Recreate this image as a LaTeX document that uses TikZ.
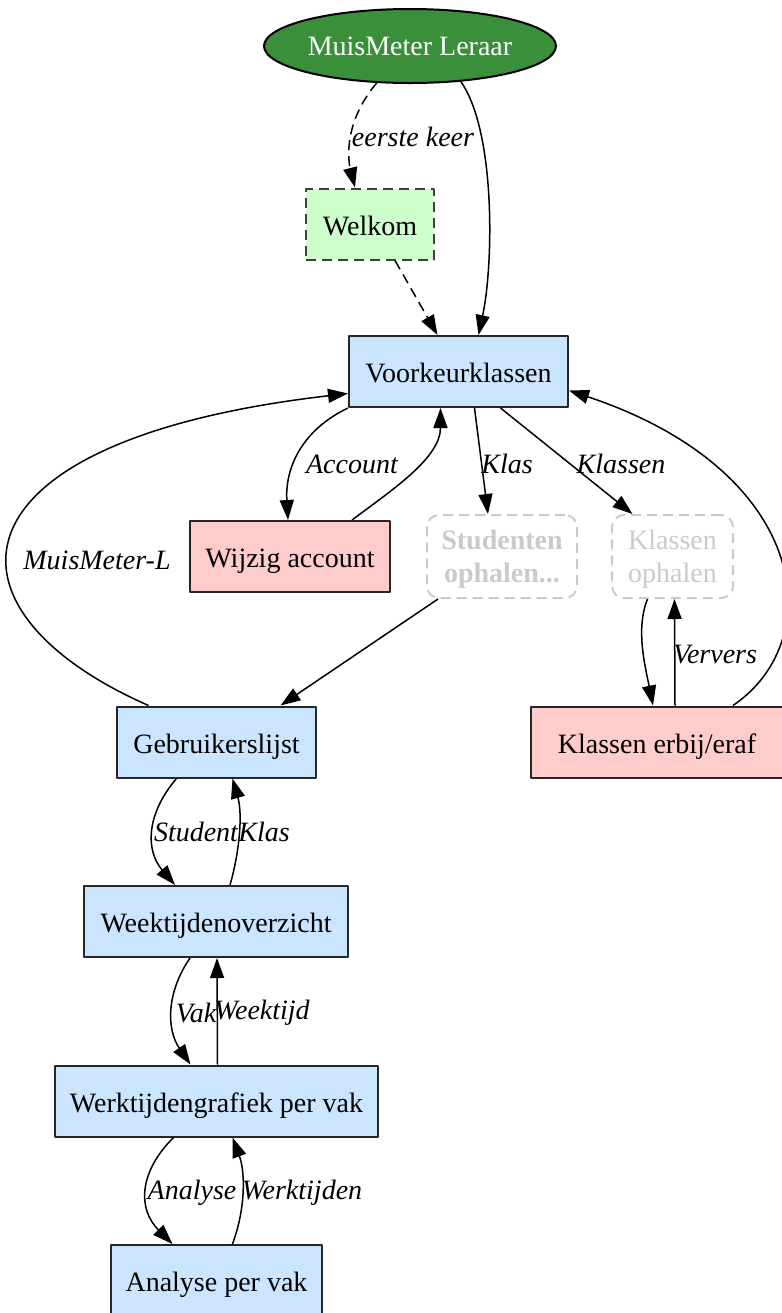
\documentclass[tikz,border=0pt]{standalone}
\usepackage{fontspec}
\setmainfont{Liberation Serif}
\usetikzlibrary{shapes.geometric,arrows.meta}
\definecolor{donkergroen}{HTML}{3A8F3A}
\definecolor{groen}{HTML}{CCFFCC}
\definecolor{blauw}{HTML}{CCE5FF}
\definecolor{roze}{HTML}{FFCCCC}
\definecolor{grijs}{HTML}{CACACA}
\begin{document}
\begin{tikzpicture}[x=0.5pt,y=-0.5pt,line width=0.75pt,font=\fontsize{14}{16.5}\selectfont,line join=round,>={Triangle[length=10pt,width=7pt]},
	box/.style={draw=black!85,line width=1pt,minimum height=35.5pt,inner sep=0pt,text height=11pt,text depth=0pt},
	ghost/.style={draw=grijs,line width=1pt,dash pattern=on 5pt off 3pt,rounded corners=6pt,text=grijs,minimum height=41.5pt,align=center,inner sep=0pt,text depth=0pt},
	streep/.style={dash pattern=on 5pt off 3pt},
	lbl/.style={font=\fontsize{14}{16.5}\selectfont\itshape,inner sep=0pt}]
	\useasboundingbox (0,0) rectangle (782,1313);
	%% knopen
	\node[ellipse,fill=donkergroen,draw=black,line width=1pt,minimum width=146pt,minimum height=37pt,inner sep=0pt,text=white] (lera) at (410,46) {MuisMeter Leraar};
	\node[box,fill=groen,draw=black!75,streep,minimum width=64pt] (welkom) at (370,224) {Welkom};
	\node[box,fill=blauw,minimum width=109.5pt] (voork) at (458.5,371.5) {Voorkeurklassen};
	\node[box,fill=roze,minimum width=100pt] (wijzig) at (290,556.5) {Wijzig account};
	\node[ghost,minimum width=75pt,font=\fontsize{14}{16.5}\selectfont\bfseries] (stud) at (502,556.5) {Studenten\\ophalen...};
	\node[ghost,minimum width=60.5pt] (klop) at (672.5,556.5) {Klassen\\ophalen};
	\node[box,fill=blauw,minimum width=99.5pt] (gebr) at (216.5,742) {Gebruikerslijst};
	\node[box,fill=roze,minimum width=126pt] (klerbij) at (657,742) {Klassen erbij/eraf};
	\node[box,fill=blauw,minimum width=132pt] (week) at (216,921.5) {Weektijdenoverzicht};
	\node[box,fill=blauw,minimum width=161.5pt] (werk) at (216.5,1101) {Werktijdengrafiek per vak};
	\node[box,fill=blauw,minimum width=105.5pt] (ana) at (216.5,1280.5) {Analyse per vak};
	
	%% pijlen
	\draw[streep,->] (lera.228) .. controls +(-33,39) and +(-7,-28) .. ([xshift=-7.5pt]welkom.north);
	\draw[->] (lera.325) .. controls +(35,50) and +(15,-70) .. ([xshift=10pt]voork.north);
	\draw[streep,->] ([xshift=12.5pt]welkom.south) -- ([xshift=-10.5pt]voork.north);
	\draw[->] (voork.south west) .. controls +(-48,23) and +(-3,-50) .. ([xshift=-1pt]wijzig.north);
	\draw[->] ([xshift=31pt]wijzig.north) .. controls +(40,-30) and +(0,50) .. ([xshift=-9pt]voork.south);
	\draw[->] ([xshift=8pt]voork.south) -- ([xshift=-7pt]stud.north);
	\draw[->] ([xshift=21pt]voork.south) -- ([xshift=-20pt]klop.north);
	\draw[->] ([xshift=-32pt]stud.south) -- ([xshift=32pt]gebr.north);
	\draw[->] ([xshift=-34pt]gebr.north) .. controls +(-218,-96) and +(-407,47) .. ([yshift=-11pt]voork.west);
	\draw[->] ([xshift=-12.5pt]klop.south) .. controls +(-12,30) and +(-8,-40) .. ([xshift=-2pt]klerbij.north);
	\draw[->] ([xshift=9pt]klerbij.north) -- ([xshift=1pt]klop.south);
	\draw[->] ([xshift=38pt]klerbij.north) .. controls +(97,-66) and +(240,80) .. ([yshift=-9.5pt]voork.east);
	\draw[->] ([xshift=-20pt]gebr.south) .. controls +(-30,35) and +(-30,-35) .. ([xshift=-20.5pt]week.north);
	\draw[->] ([xshift=7pt]week.north) .. controls +(10,-35) and +(10,35) .. ([xshift=8pt]gebr.south);
	\draw[->] ([xshift=-13pt]week.south) .. controls +(-24,35) and +(-24,-35) .. ([xshift=-13pt]werk.north);
	\draw[->] ([xshift=0.5pt]werk.north) -- ([xshift=0.5pt]week.south);
	\draw[->] ([xshift=-21.5pt]werk.south) .. controls +(-35,35) and +(-35,-35) .. ([xshift=-22pt]ana.north);
	\draw[->] ([xshift=8pt]ana.north) .. controls +(13,-35) and +(13,35) .. ([xshift=8pt]werk.south);
	
	%% labels
	\node[lbl] (leerste) at (413,137) {eerste keer};
	\node[lbl] (laccount) at (352,464) {Account};
	\node[lbl] (lklas) at (507,464) {Klas};
	\node[lbl] (lklassen) at (621,464) {Klassen};
	\node[lbl] (lmuis) at (97,560) {MuisMeter-L};
	\node[lbl] (lververs) at (715,655) {Ververs};
	\node[lbl] (lstudent) at (196,832) {Student};
	\node[lbl] (lklas2) at (264,832) {Klas};
	\node[lbl] (lvak) at (196,1013) {Vak};
	\node[lbl] (lweektijd) at (262,1013) {Weektijd};
	\node[lbl] (lanalyse) at (192,1193) {Analyse};
	\node[lbl] (lwerktijden) at (302,1193) {Werktijden};
\end{tikzpicture}
\end{document}
